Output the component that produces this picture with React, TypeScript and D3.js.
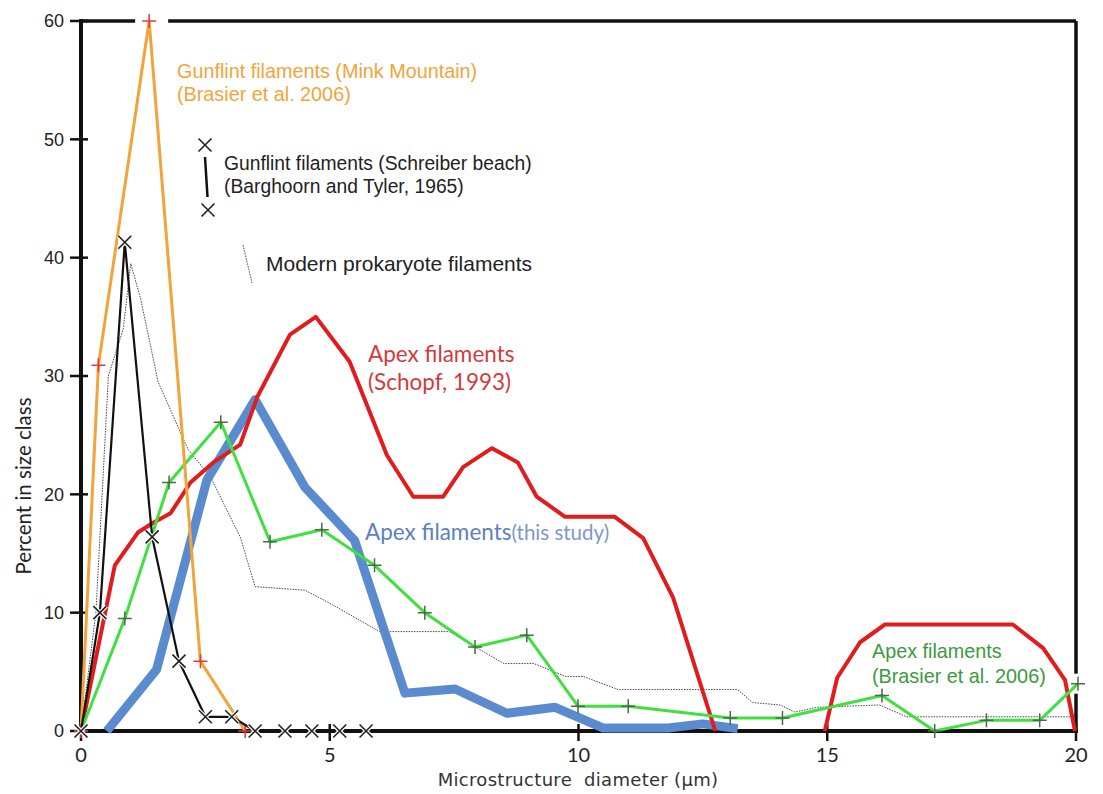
import React from 'react';
import * as d3 from 'd3';

// values (x in µm, y in percent)
const orangeX = [0, 0.35, 1.37, 2.4, 3.3];
const orangeY = [0, 30.9, 60, 5.9, 0];

const blackX = [0, 0.38, 0.88, 1.43, 1.97, 2.5, 3.03, 3.5, 4.1, 4.64, 5.2, 5.73];
const blackY = [0, 10, 41.3, 16.4, 5.9, 1.2, 1.2, 0, 0, 0, 0, 0];

const modernX = [0, 0.3, 0.55, 0.85, 1.0, 1.2, 1.55, 2.15, 2.6, 3.2, 3.5, 4.5, 5.0, 6.0, 7.4, 8.5, 9.1, 9.75, 10.1, 10.8, 13.2, 13.5, 14.05, 14.35, 14.8, 16.05, 16.6, 19.9];
const modernY = [0, 10, 30, 34, 39.5, 36.5, 29.5, 23.8, 21.5, 16.4, 12.2, 11.9, 10.8, 8.4, 8.4, 5.7, 5.7, 4.6, 4.6, 3.5, 3.5, 2.4, 2.2, 1.6, 2.0, 2.2, 1.2, 1.2];

const blueX = [0.52, 1.52, 2.53, 3.5, 4.5, 5.5, 6.51, 7.52, 8.56, 9.53, 10.5, 11.8, 12.5, 13.2];
const blueY = [0, 5.2, 21.2, 28, 20.6, 16.1, 3.2, 3.55, 1.5, 2.0, 0.25, 0.25, 0.6, 0.2];

const redAX = [0, 0.68, 1.15, 1.45, 1.8, 2.2, 2.66, 3.2, 3.54, 4.2, 4.72, 5.4, 6.15, 6.68, 7.28, 7.68, 8.26, 8.78, 9.16, 9.73, 10.73, 11.3, 11.9, 12.75];
const redAY = [0, 14.0, 16.8, 17.6, 18.4, 21, 22.7, 24.2, 28.2, 33.5, 35, 31.2, 23.3, 19.8, 19.8, 22.3, 23.9, 22.7, 19.8, 18.1, 18.1, 16.3, 11.3, 0];
const redBX = [14.95, 15.2, 15.66, 16.16, 18.73, 19.34, 19.78, 19.98];
const redBY = [0, 4.5, 7.5, 9.0, 9.0, 7.0, 4.3, 0];

const greenX = [0, 0.88, 1.77, 2.81, 3.8, 4.84, 5.9, 6.91, 7.92, 8.96, 9.99, 11.0, 13.05, 14.1, 16.1, 17.16, 18.2, 19.27, 20.04];
const greenY = [0, 9.5, 21, 26.1, 16, 17, 14, 10, 7.1, 8.1, 2.1, 2.1, 1.1, 1.1, 3.0, 0, 0.9, 0.9, 4.0];

const xTicks = [0, 5, 10, 15, 20];
const yTicks = [0, 10, 20, 30, 40, 50, 60];

const W = 1103;
const H = 794;

const x = d3.scaleLinear().domain([0, 20]).range([81, 1076]);
const y = d3.scaleLinear().domain([0, 60]).range([731, 21]);

const zip = (xs: number[], ys: number[]) => xs.map((v, i) => [v, ys[i]] as [number, number]);
const line = d3.line<[number, number]>().x(d => x(d[0])).y(d => y(d[1]));

const plus = (s: number) => `M${-s},0H${s}M0,${-s}V${s}`;
const cross = (s: number) => `M${-s},${-s}L${s},${s}M${-s},${s}L${s},${-s}`;

const App = () => {
  const orange = zip(orangeX, orangeY);
  const black = zip(blackX, blackY);
  const green = zip(greenX, greenY);
  const peak = orange[2];
  const gEnd = green[green.length - 1];

  return (
    <svg width={W} height={H} style={{ position: 'absolute', left: 0, top: 0, background: '#fff' }}>
      {/* frame */}
      <g stroke="#111" strokeWidth={3.5} fill="none">
        <line x1={x(0)} x2={x(20)} y1={y(60)} y2={y(60)} />
        <line x1={x(20)} x2={x(20)} y1={y(60)} y2={y(0)} />
      </g>
      <rect x={x(peak[0]) - 14} y={y(60) - 4} width={33} height={8} fill="#fff" />
      <rect x={x(20) - 4} y={y(gEnd[1]) - 10} width={8} height={20} fill="#fff" />

      {/* y axis */}
      <line x1={x(0)} x2={x(0)} y1={y(60) - 2} y2={y(0) + 2} stroke="#111" strokeWidth={4} />
      <g fontFamily="'Liberation Sans', Arial, sans-serif" fontSize={18} fill="#222">
        {yTicks.map(t => (
          <g key={t} transform={`translate(0,${y(t)})`}>
            <line x1={x(0) - 11} x2={x(0) + 7} stroke="#111" strokeWidth={2.5} />
            <text x={x(0) - 17} dy="0.36em" textAnchor="end">{t}</text>
          </g>
        ))}
      </g>
      <text transform={`translate(31,486) rotate(-90)`} textAnchor="middle"
        fontFamily="Lato, 'Open Sans', sans-serif" fontSize={20.5} fill="#222">Percent in size class</text>

      {/* x axis */}
      <line x1={x(0) - 2} x2={x(20) + 2} y1={y(0)} y2={y(0)} stroke="#111" strokeWidth={4} />
      <g fontFamily="Lato, 'Open Sans', sans-serif" fontSize={20} fill="#222">
        {xTicks.map(t => (
          <g key={t} transform={`translate(${x(t)},0)`}>
            <line y1={y(0) - 7} y2={y(0) + 10} stroke="#111" strokeWidth={2.5} />
            <text y={y(0) + 31} textAnchor="middle">{t}</text>
          </g>
        ))}
      </g>
      <text x={578} y={786} textAnchor="middle" fontFamily="'DejaVu Sans', Verdana, sans-serif"
        fontSize={18} letterSpacing={0.3} fill="#333" style={{ whiteSpace: 'pre' }}>Microstructure  diameter (μm)</text>

      {/* series */}
      <path d={line(zip(modernX, modernY)) ?? ''} fill="none" stroke="#444" strokeWidth={1} strokeDasharray="1.5 1.2" />
      <path d={line(zip(blueX, blueY)) ?? ''} fill="none" stroke="#5b8bcf" strokeWidth={9} strokeLinejoin="round" />
      <path d={line(zip(redAX, redAY)) ?? ''} fill="none" stroke="#e01c1c" strokeWidth={4} strokeLinejoin="round" />
      <path d={line(zip(redBX, redBY)) ?? ''} fill="none" stroke="#e01c1c" strokeWidth={4} strokeLinejoin="round" />
      <path d={line(green) ?? ''} fill="none" stroke="#3fe03f" strokeWidth={3} strokeLinejoin="round" />
      {green.map((d, i) => (
        <path key={i} d={plus(7)} transform={`translate(${x(d[0])},${y(d[1])})`} stroke="#4a6a4a" strokeWidth={1.5} />
      ))}
      <path d={line(orange) ?? ''} fill="none" stroke="#f2a43a" strokeWidth={3} strokeLinejoin="round" />
      {orange.map((d, i) => (
        <path key={i} d={plus(7)} transform={`translate(${x(d[0])},${y(d[1])})`} stroke="#e23a3a" strokeWidth={1.5} />
      ))}
      <path d={line(black) ?? ''} fill="none" stroke="#111" strokeWidth={2.2} strokeLinejoin="round" />
      {black.map((d, i) => (
        <g key={i} transform={`translate(${x(d[0])},${y(d[1])})`}>
          <path d={cross(6.5)} stroke="#fff" strokeWidth={4} />
          <path d={cross(6.5)} stroke="#222" strokeWidth={1.6} />
        </g>
      ))}

      {/* annotations */}
      <g fontFamily="'Liberation Sans', Arial, sans-serif" fontSize={19.8}>
        <text x={177} y={78} fill="#f2a43a">Gunflint filaments (Mink Mountain)</text>
        <text x={177} y={101} fill="#f2a43a">(Brasier et al. 2006)</text>
        <text x={224} y={170} fill="#222" fontSize={19.3}>Gunflint filaments (Schreiber beach)</text>
        <text x={224} y={193} fill="#222" fontSize={19.3}>(Barghoorn and Tyler, 1965)</text>
        <text x={266} y={271} fill="#222" fontSize={21}>Modern prokaryote filaments</text>
        <text x={872} y={658} fill="#3c9a3c">Apex filaments</text>
        <text x={872} y={683} fill="#3c9a3c">(Brasier et al. 2006)</text>
      </g>
      <path d={cross(6.5)} transform="translate(205,145)" stroke="#222" strokeWidth={1.6} />
      <line x1={205} y1={157} x2={207.5} y2={197} stroke="#111" strokeWidth={2.5} />
      <path d={cross(6.5)} transform="translate(208,210)" stroke="#222" strokeWidth={1.6} />
      <line x1={243} y1={245} x2={252} y2={283} stroke="#444" strokeWidth={1} strokeDasharray="1.5 1.2" />

      <g fontFamily="Lato, 'Open Sans', sans-serif">
        <text x={368} y={362} fontSize={22.5} fill="#d43a3a">Apex filaments</text>
        <text x={368} y={390} fontSize={22.5} fill="#d43a3a">(Schopf, 1993)</text>
        <text x={365} y={540} fill="#5b80c4">
          <tspan fontSize={22.5}>Apex filaments</tspan>
          <tspan fontSize={20.5} fill="#7d97c9">(this study)</tspan>
        </text>
      </g>
    </svg>
  );
};

export default App;
